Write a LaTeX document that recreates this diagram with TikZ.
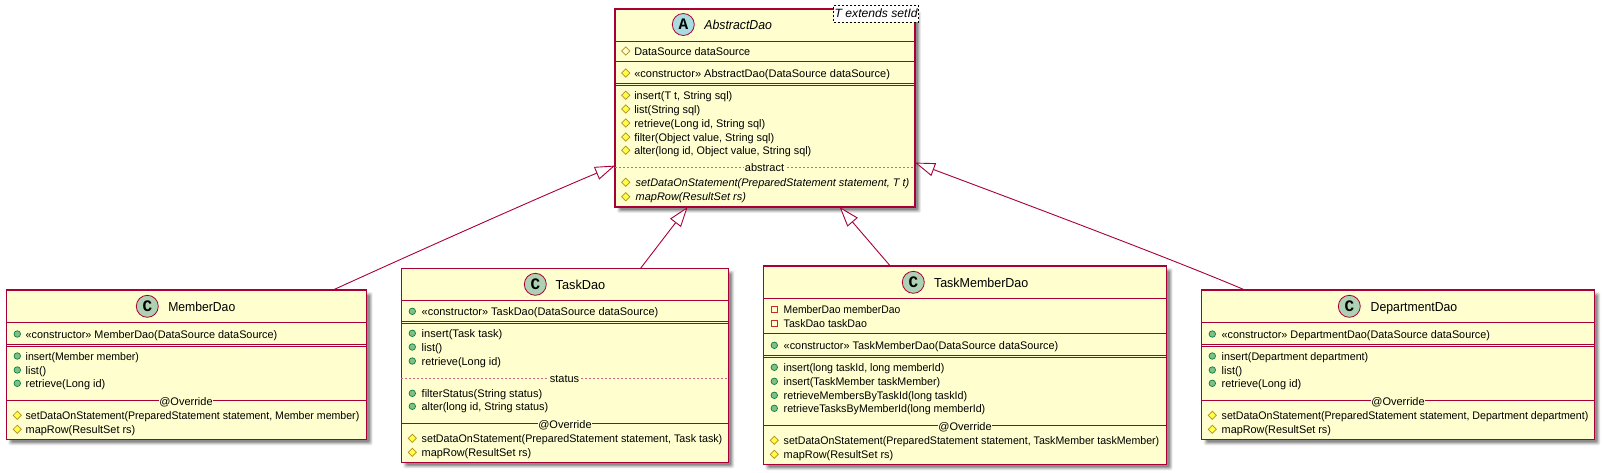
\documentclass[tikz,border=0pt]{standalone}
\usepackage{graphicx}
\usepackage{fontspec}
\setmainfont{Liberation Sans}
\newfontfamily\iconfont{Liberation Mono}
\usetikzlibrary{arrows.meta,shapes.geometric}
\definecolor{bord}{HTML}{A80036}
\definecolor{cfill}{HTML}{FEFECE}
\definecolor{iconA}{HTML}{A9DCDF}
\definecolor{iconC}{HTML}{ADD1B2}
\definecolor{pubfill}{HTML}{84BE84}
\definecolor{publine}{HTML}{038048}
\definecolor{protfill}{HTML}{FFFF44}
\definecolor{protline}{HTML}{B38D22}
\definecolor{privline}{HTML}{C82930}
\newcount\itemctr
\newcommand{\nextid}{\global\advance\itemctr by 1 }
\tikzset{
  classbox/.style={draw=bord,fill=cfill,line width=1.4pt,rectangle,inner sep=0,outer sep=0},
  sep/.style={draw=bord,line width=0.8pt},
  sepdash/.style={draw=bord!60!white,line width=0.6pt,dash pattern=on 2pt off 2pt},
  txt/.style={anchor=base west,inner sep=0,outer sep=0,font=\fontsize{11}{13}\selectfont},
  sectxt/.style={anchor=base,inner sep=0.5pt,outer sep=0,fill=cfill,font=\fontsize{11}{13}\selectfont},
  titletxt/.style={anchor=base west,inner sep=0,outer sep=0,font=\fontsize{13}{16}\selectfont},
  iconc/.style={circle,draw=bord,line width=0.8pt,minimum size=22pt,inner sep=0,font=\iconfont\bfseries\fontsize{16}{16}\selectfont},
  pubm/.style={circle,draw=publine,fill=pubfill,line width=0.7pt,minimum size=6.5pt,inner sep=0},
  protm/.style={diamond,aspect=1,draw=protline,fill=protfill,line width=0.7pt,minimum size=8.5pt,inner sep=0},
  protf/.style={diamond,aspect=1,draw=protline,line width=0.7pt,minimum size=8.5pt,inner sep=0},
  privf/.style={rectangle,draw=privline,line width=0.7pt,minimum size=6pt,inner sep=0},
  inh/.style={draw=bord,line width=0.9pt,-{Triangle[open,fill=white,length=20pt,width=13.5pt,line width=0.9pt]}},
}
% name x1 y1 x2 y2
\newcommand{\umlbox}[5]{%
  \foreach \k/\op in {2.0/.07,1.2/.09,0.4/.11,-0.4/.13,-1.2/.15}{
    \fill[black,opacity=\op,rounded corners=1.5pt] ({#2+4-\k},{#3+4-\k}) rectangle ({#4+4+\k},{#5+4+\k});
  }
  \node[classbox,minimum width={(#4-#2)*1pt},minimum height={(#5-#3)*1pt}] (#1) at ({(#2+#4)/2},{(#3+#5)/2}) {};
}
\newcommand{\hsep}[2]{\draw[sep] (#1.west |- 0,#2) -- (#1.east |- 0,#2);}
\newcommand{\hdbl}[3]{\hsep{#1}{#2}\hsep{#1}{#3}}
\newcommand{\hdash}[2]{\draw[sepdash] (#1.west |- 0,#2) -- (#1.east |- 0,#2);}
% kind mx tx y width text
\newcommand{\row}[6]{\nextid
  \node[#1] (m\the\itemctr) at (#2,#4) {};
  \node[txt] (t\the\itemctr) at (#3,#4+4) {\resizebox{#5pt}{\height}{#6}};}
% cx y text
\newcommand{\sectext}[3]{\nextid
  \node[sectxt] (s\the\itemctr) at (#1,#2+4) {#3};}
\begin{document}
\begin{tikzpicture}[x=1pt,y=-1pt]
\useasboundingbox (0,0) rectangle (1604,472);
\fill[white] (0,0) rectangle (1604,472);

%% AbstractDao
\umlbox{adao}{615}{9}{915}{207}
\hsep{adao}{41}\hsep{adao}{61}\hdbl{adao}{83.7}{85.3}\hdash{adao}{167.3}
\node[iconc,fill=iconA] (adaoicon) at (683.3,24.5) {A};
\node[titletxt] (adaotitle) at (704.3,29) {\resizebox{67.7pt}{\height}{\itshape AbstractDao}};
\node[draw=black,fill=white,dash pattern=on 2pt off 2pt,line width=0.6pt,inner sep=0,minimum width=85pt,minimum height=16.7pt,font=\fontsize{12}{14}\selectfont\itshape] (adaotpl) at (876.2,13.7) {\resizebox{83pt}{\height}{T extends setId}};
\row{protf}{625.7}{634.3}{51}{116}{DataSource dataSource}
\row{protm}{625.7}{634.3}{73}{255.7}{«constructor» AbstractDao(DataSource dataSource)}
\row{protm}{625.7}{634.3}{95.3}{98}{insert(T t, String sql)}
\row{protm}{625.7}{634.3}{109}{66}{list(String sql)}
\row{protm}{625.7}{634.3}{123}{131}{retrieve(Long id, String sql)}
\row{protm}{625.7}{634.3}{137}{140}{filter(Object value, String sql)}
\row{protm}{625.7}{634.3}{150.3}{177}{alter(long id, Object value, String sql)}
\sectext{764.5}{167.7}{abstract}
\row{protm}{625.7}{635.7}{182.3}{273.6}{\itshape setDataOnStatement(PreparedStatement statement, T t)}
\row{protm}{625.7}{635.7}{196.7}{110.3}{\itshape mapRow(ResultSet rs)}

%% MemberDao
\umlbox{member}{6.3}{290}{366.7}{439.3}
\hsep{member}{322.3}\hdbl{member}{344.7}{346.3}\hsep{member}{400.3}
\node[iconc,fill=iconC] (membericon) at (147.3,306.3) {C};
\node[titletxt] (membertitle) at (168.3,311) {\resizebox{67pt}{\height}{MemberDao}};
\row{pubm}{17.3}{25.7}{334}{251.6}{«constructor» MemberDao(DataSource dataSource)}
\row{pubm}{17.3}{25.7}{356}{113.3}{insert(Member member)}
\row{pubm}{17.3}{25.7}{370}{20.6}{list()}
\row{pubm}{17.3}{25.7}{383.3}{79.6}{retrieve(Long id)}
\sectext{186}{401.3}{@Override}
\row{protm}{17.3}{25.7}{415.3}{333.6}{setDataOnStatement(PreparedStatement statement, Member member)}
\row{protm}{17.3}{25.7}{429.3}{109.6}{mapRow(ResultSet rs)}

%% TaskDao
\umlbox{task}{401.3}{268.3}{728.3}{462.3}
\hsep{task}{300.7}\hdbl{task}{321.7}{323.3}\hdash{task}{378.3}\hsep{task}{423.3}
\node[iconc,fill=iconC] (taskicon) at (535.3,284.3) {C};
\node[titletxt] (tasktitle) at (555.7,289) {\resizebox{49.6pt}{\height}{TaskDao}};
\row{pubm}{412.3}{421.7}{311.3}{236.6}{«constructor» TaskDao(DataSource dataSource)}
\row{pubm}{412.3}{421.7}{333.3}{80.6}{insert(Task task)}
\row{pubm}{412.3}{421.7}{347}{20.6}{list()}
\row{pubm}{412.3}{421.7}{361}{79.3}{retrieve(Long id)}
\sectext{564.5}{378.3}{status}
\row{pubm}{412.3}{421.7}{393.3}{120.6}{filterStatus(String status)}
\row{pubm}{412.3}{421.7}{406.3}{126.6}{alter(long id, String status)}
\sectext{565}{424.3}{@Override}
\row{protm}{412.3}{421.7}{438.3}{300.6}{setDataOnStatement(PreparedStatement statement, Task task)}
\row{protm}{412.3}{421.7}{452.3}{109.6}{mapRow(ResultSet rs)}

%% TaskMemberDao
\umlbox{tmember}{763.3}{266}{1166.7}{464.3}
\hsep{tmember}{298.3}\hsep{tmember}{333.7}\hdbl{tmember}{355.3}{357.3}\hsep{tmember}{425.3}
\node[iconc,fill=iconC] (tmembericon) at (913.3,282.3) {C};
\node[titletxt] (tmembertitle) at (934,287) {\resizebox{94.3pt}{\height}{TaskMemberDao}};
\row{privf}{774.3}{783.7}{309.3}{116.6}{MemberDao memberDao}
\row{privf}{774.3}{783.7}{323}{83.3}{TaskDao taskDao}
\row{pubm}{774.3}{783.7}{345.3}{274.6}{«constructor» TaskMemberDao(DataSource dataSource)}
\row{pubm}{774.3}{783.7}{367.3}{160.6}{insert(long taskId, long memberId)}
\row{pubm}{774.3}{783.7}{381.3}{156.6}{insert(TaskMember taskMember)}
\row{pubm}{774.3}{783.7}{395.3}{183.6}{retrieveMembersByTaskId(long taskId)}
\row{pubm}{774.3}{783.7}{408.3}{201.6}{retrieveTasksByMemberId(long memberId)}
\sectext{965}{426.3}{@Override}
\row{protm}{774.3}{783.7}{440.3}{375.6}{setDataOnStatement(PreparedStatement statement, TaskMember taskMember)}
\row{protm}{774.3}{783.7}{454.3}{109.6}{mapRow(ResultSet rs)}

%% DepartmentDao
\umlbox{dept}{1201.7}{290}{1594.3}{439.3}
\hsep{dept}{322.3}\hdbl{dept}{344.7}{346.3}\hsep{dept}{400.3}
\node[iconc,fill=iconC] (depticon) at (1349.3,306.3) {C};
\node[titletxt] (depttitle) at (1370.7,311) {\resizebox{86.6pt}{\height}{DepartmentDao}};
\row{pubm}{1212.3}{1221.7}{334}{268.3}{«constructor» DepartmentDao(DataSource dataSource)}
\row{pubm}{1212.3}{1221.7}{356}{146.6}{insert(Department department)}
\row{pubm}{1212.3}{1221.7}{370}{20.6}{list()}
\row{pubm}{1212.3}{1221.7}{383.3}{79.6}{retrieve(Long id)}
\sectext{1398}{401.3}{@Override}
\row{protm}{1212.3}{1221.7}{415.3}{366.6}{setDataOnStatement(PreparedStatement statement, Department department)}
\row{protm}{1212.3}{1221.7}{429.3}{109.3}{mapRow(ResultSet rs)}

%% Connectors
\draw[inh] (member.27) .. controls +(70,-32) and +(-70,29) .. (adao.201.5);
\draw[inh] (task.52.2) -- (adao.232.2);
\draw[inh] (tmember.127.7) -- (adao.307.5);
\draw[inh] (dept.154.7) .. controls +(-80,-34) and +(80,30) .. (adao.340.2);
\end{tikzpicture}
\end{document}
